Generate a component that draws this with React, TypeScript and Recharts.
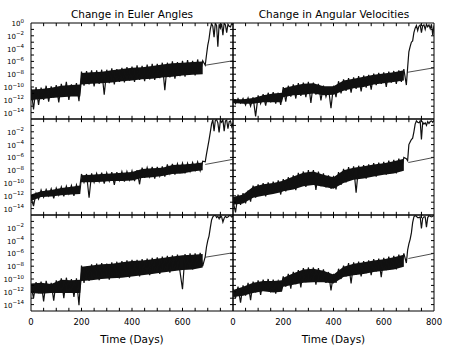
import { ComposedChart, Line, Area, XAxis, YAxis, ReferenceLine, ReferenceArea } from "recharts";

// sample days: every 10 days up to 680, then every 5 days through the divergence
const DAYS = [
  0, 10, 20, 30, 40, 50, 60, 70, 80, 90,
  100, 110, 120, 130, 140, 150, 160, 170, 180, 190,
  200, 210, 220, 230, 240, 250, 260, 270, 280, 290,
  300, 310, 320, 330, 340, 350, 360, 370, 380, 390,
  400, 410, 420, 430, 440, 450, 460, 470, 480, 490,
  500, 510, 520, 530, 540, 550, 560, 570, 580, 590,
  600, 610, 620, 630, 640, 650, 660, 670, 680,
  690, 695, 700, 705, 710, 715, 720, 725, 730, 735, 740, 745,
  750, 755, 760, 765, 770, 775, 780, 785, 790, 795, 800,
];

// log10 of the change
const EULER_1 = [
  -10.2, -13.5, -10.0, -12.8, -10.1, -12.0, -9.8, -12.3, -9.9, -11.6,
  -9.7, -12.4, -9.5, -11.5, -9.2, -12.0, -9.6, -11.3, -9.4, -12.2,
  -7.6, -9.8, -7.5, -9.6, -7.4, -9.9, -7.4, -9.5, -7.3, -11.2,
  -7.3, -9.4, -7.1, -9.6, -7.2, -9.2, -7.0, -9.3, -6.9, -9.0,
  -6.8, -9.2, -6.6, -8.9, -6.7, -9.1, -6.5, -8.8, -6.4, -8.9,
  -6.4, -8.6, -6.2, -10.5, -6.2, -8.5, -6.0, -8.7, -6.1, -8.3,
  -5.9, -8.4, -5.8, -8.0, -5.9, -8.2, -5.7, -7.9, -5.9,
  -6.6, -5.0, -3.5, -2.5, -1.0, -0.1, -0.5, -2.2, 0, -0.4, -3.7, -0.2,
  -0.8, -0.1, -1.9, 0, -0.3, -1.5, -0.2, -0.5, -0.6, -0.1, -0.3,
];
const ANGVEL_1 = [
  -11.8, -12.6, -11.8, -12.5, -11.8, -12.8, -11.7, -13.0, -11.6, -14.6,
  -11.3, -12.6, -11.1, -12.9, -10.9, -12.4, -10.8, -12.6, -10.9, -12.8,
  -10.0, -12.3, -9.8, -11.5, -9.6, -11.8, -9.4, -11.4, -9.3, -11.6,
  -9.2, -12.5, -9.3, -11.2, -9.5, -12.1, -9.8, -11.5, -10.2, -13.3,
  -9.8, -11.6, -9.1, -11.0, -8.8, -10.6, -8.6, -10.9, -8.5, -10.3,
  -8.3, -10.7, -8.2, -10.1, -8.1, -10.4, -7.9, -9.7, -7.8, -9.5,
  -7.7, -10.0, -7.6, -9.3, -7.5, -9.5, -7.4, -9.2, -7.2,
  -9.7, -7.0, -4.5, -3.7, -3.0, -2.8, -1.5, -0.8, -0.4, -1.2, -0.5, -0.3,
  -1.5, -0.4, -0.3, -1.0, -0.2, -0.6, -0.3, -0.9, -0.2, -1.9, -0.4,
];
const EULER_2 = [
  -12.3, -13.6, -11.6, -12.5, -11.1, -12.2, -11.0, -12.0, -10.9, -12.4,
  -10.8, -11.9, -10.6, -12.1, -10.5, -11.7, -10.4, -12.0, -10.3, -11.6,
  -8.6, -9.9, -8.6, -12.3, -8.5, -9.9, -8.5, -9.8, -8.4, -10.1,
  -8.4, -9.7, -8.3, -10.3, -8.3, -9.6, -8.2, -9.8, -8.2, -9.5,
  -8.1, -9.7, -8.0, -10.2, -7.6, -9.2, -7.6, -9.0, -7.5, -9.3,
  -7.5, -8.9, -7.4, -9.0, -7.1, -8.5, -7.0, -8.7, -7.0, -8.3,
  -6.9, -8.5, -6.9, -8.2, -6.8, -8.0, -6.7, -8.1, -6.6,
  -6.7, -5.5, -4.4, -3.3, -2.1, -0.8, -0.1, -1.9, -0.2, -0.1, -0.6, -2.1,
  -0.2, -0.5, -0.1, -1.9, -0.3, -0.2, -1.5, -0.4, -0.3, -1.2, -0.6,
];
const ANGVEL_2 = [
  -12.8, -14.6, -11.8, -13.4, -11.6, -13.2, -11.2, -12.9, -10.4, -12.3,
  -10.2, -11.9, -10.0, -12.1, -9.9, -11.7, -9.8, -11.5, -9.6, -11.8,
  -9.4, -11.3, -9.1, -10.9, -8.8, -11.1, -8.4, -10.4, -8.2, -10.6,
  -8.0, -10.2, -8.0, -11.1, -8.2, -10.5, -8.5, -10.7, -8.8, -10.9,
  -8.9, -11.0, -8.3, -10.3, -7.8, -9.9, -7.5, -9.4, -7.4, -11.5,
  -7.3, -9.0, -7.2, -9.3, -7.1, -8.7, -6.9, -9.0, -6.8, -8.5,
  -6.7, -8.7, -6.5, -8.3, -6.4, -8.5, -6.2, -8.0, -6.0,
  -6.2, -6.5, -4.0, -3.6, -3.2, -3.0, -2.0, -0.8, -0.3, -0.5, -0.6, -0.3,
  -3.2, -0.5, -0.8, -0.6, -1.0, -0.4, -0.7, -0.4, -0.3, -0.5, -0.2,
];
const EULER_3 = [
  -11.0, -13.0, -10.5, -12.2, -10.4, -13.5, -10.3, -12.0, -10.6, -13.4,
  -10.2, -11.8, -9.9, -13.0, -9.8, -12.1, -10.0, -12.8, -9.9, -14.1,
  -7.9, -10.6, -8.1, -10.3, -7.7, -10.0, -7.6, -10.2, -7.5, -9.8,
  -7.6, -10.1, -7.4, -9.7, -7.3, -9.9, -7.2, -9.5, -7.1, -9.8,
  -7.0, -9.3, -7.0, -9.6, -6.9, -9.1, -6.8, -9.4, -6.7, -8.9,
  -6.6, -9.2, -6.5, -8.8, -6.4, -9.0, -6.3, -8.6, -6.2, -8.8,
  -11.6, -6.1, -8.4, -6.0, -8.5, -6.0, -8.2, -5.9, -8.0,
  -6.5, -5.0, -4.0, -3.3, -2.0, -0.8, -0.3, -0.1, 0, -0.4, -0.2, -0.6,
  -0.1, -0.3, -1.1, -0.5, -0.2, -0.4, -0.3, -0.1, -0.1, -0.3, -0.2,
];
const ANGVEL_3 = [
  -11.5, -13.0, -11.2, -13.7, -11.0, -12.6, -10.6, -13.3, -10.4, -12.1,
  -10.2, -12.5, -10.1, -11.8, -10.0, -12.1, -10.1, -12.3, -10.3, -11.4,
  -9.6, -11.2, -9.2, -11.5, -8.9, -10.8, -8.6, -11.3, -8.3, -10.5,
  -8.2, -10.3, -8.2, -10.9, -8.3, -10.4, -8.5, -10.6, -8.9, -11.8,
  -9.2, -10.6, -8.4, -10.0, -7.9, -9.6, -7.5, -10.7, -7.4, -9.3,
  -7.3, -9.6, -7.2, -9.1, -7.1, -9.4, -6.9, -8.8, -6.8, -9.7,
  -6.7, -8.6, -6.5, -8.4, -6.4, -8.5, -6.2, -8.0, -6.0,
  -7.5, -5.5, -4.5, -3.8, -2.8, -1.2, -0.3, -0.1, -0.2, -0.4, -0.4, -0.3,
  -2.1, -0.5, -0.3, -0.3, -1.9, -0.4, -0.1, -0.2, -0.3, -0.2, -0.1,
];

// solid core of the noisy band (log10)
const BAND_DAYS = [0, 40, 80, 120, 160, 195, 200, 240, 280, 320, 360, 400, 440, 480, 520, 560, 600, 640, 680];
const BAND_HI_1 = [-10.4, -10.3, -10.1, -9.8, -9.7, -9.6, -7.8, -7.7, -7.6, -7.4, -7.2, -7.0, -6.9, -6.7, -6.5, -6.3, -6.2, -6.1, -6.0];
const BAND_LO_1 = [-12.0, -11.9, -11.7, -11.6, -11.5, -11.5, -9.6, -9.5, -9.4, -9.3, -9.1, -9.0, -8.8, -8.7, -8.5, -8.4, -8.2, -8.1, -8.0];
const BAND_HI_2 = [-11.9, -11.9, -11.7, -11.3, -11.0, -10.9, -10.2, -9.8, -9.5, -9.4, -9.9, -9.9, -9.0, -8.7, -8.4, -8.1, -7.9, -7.7, -7.4];
const BAND_LO_2 = [-12.5, -12.6, -12.6, -12.4, -12.4, -12.4, -11.6, -11.3, -11.2, -11.0, -11.3, -11.2, -10.6, -10.2, -10.0, -9.6, -9.4, -9.2, -9.0];
const BAND_HI_3 = [-11.8, -11.3, -11.1, -10.8, -10.6, -10.4, -8.8, -8.7, -8.6, -8.5, -8.4, -8.3, -7.8, -7.7, -7.6, -7.2, -7.1, -7.0, -6.8];
const BAND_LO_3 = [-12.8, -12.2, -12.1, -11.9, -11.8, -11.7, -9.9, -9.9, -9.8, -9.7, -9.7, -9.6, -9.2, -9.1, -8.9, -8.6, -8.5, -8.2, -8.0];
const BAND_HI_4 = [-12.2, -11.8, -10.6, -10.2, -10.0, -9.7, -9.6, -9.0, -8.4, -8.2, -8.7, -9.1, -8.0, -7.6, -7.4, -7.1, -6.9, -6.6, -6.2];
const BAND_LO_4 = [-13.4, -13.2, -12.3, -12.0, -11.7, -11.4, -11.3, -11.0, -10.5, -10.3, -10.6, -10.9, -10.0, -9.5, -9.3, -9.0, -8.7, -8.5, -8.1];
const BAND_HI_5 = [-10.7, -10.6, -10.8, -10.1, -10.2, -10.1, -8.1, -7.9, -7.7, -7.6, -7.4, -7.2, -7.1, -6.9, -6.7, -6.5, -6.3, -6.2, -6.1];
const BAND_LO_5 = [-12.2, -12.3, -12.2, -12.2, -12.2, -12.2, -10.3, -10.2, -10.0, -9.9, -9.8, -9.6, -9.4, -9.2, -9.0, -8.8, -8.6, -8.5, -8.2];
const BAND_HI_6 = [-11.7, -11.2, -10.6, -10.3, -10.3, -10.2, -9.8, -9.1, -8.5, -8.4, -8.7, -9.3, -8.1, -7.6, -7.4, -7.1, -6.9, -6.6, -6.2];
const BAND_LO_6 = [-12.8, -12.6, -12.2, -11.9, -12.1, -12.0, -11.2, -10.9, -10.6, -10.5, -10.5, -10.7, -9.7, -9.4, -9.2, -8.9, -8.7, -8.5, -8.1];

// thin reference lines (start/end)
const TREND_DAYS_1 = [690, 800];
const TREND_1 = [-6.6, -5.9];
const TREND_DAYS_2 = [695, 800];
const TREND_2 = [-7.7, -7.0];
const TREND_DAYS_3 = [690, 800];
const TREND_3 = [-7.1, -6.3];
const TREND_DAYS_4 = [698, 800];
const TREND_4 = [-6.8, -6.0];
const TREND_DAYS_5 = [690, 800];
const TREND_5 = [-6.6, -5.9];
const TREND_DAYS_6 = [698, 800];
const TREND_6 = [-6.8, -6.0];

const Y_LABELS_TOP = [-14, -12, -10, -8, -6, -4, -2, 0];
const Y_LABELS = [-14, -12, -10, -8, -6, -4, -2];
const X_LABELS_LEFT = [0, 200, 400, 600];
const X_LABELS_RIGHT = [0, 200, 400, 600, 800];
const Y_MINOR = [-14, -13, -12, -11, -10, -9, -8, -7, -6, -5, -4, -3, -2, -1];
const X_MINOR = [50, 100, 150, 200, 250, 300, 350, 400, 450, 500, 550, 600, 650, 700, 750];

const FONT = "DejaVu Sans, sans-serif";
const PLOT_H = 96;
const PAD = 12;
const TICK_DAYS = 12; // ~3px
const TICK_DEC = 0.5; // ~3px

function PowerTick({ x, y, payload }: any) {
  const exp = payload.value === 0 ? "0" : "\u2212" + Math.abs(payload.value);
  return (
    <text x={x} y={y} textAnchor="end" dy={3} fontSize={7} fontFamily={FONT} fill="#000">
      10
      <tspan dy={-3.5} fontSize={5.5}>
        {exp}
      </tspan>
    </text>
  );
}

interface PanelProps {
  values: number[];
  bandHi: number[];
  bandLo: number[];
  trendDays: number[];
  trend: number[];
  left: boolean;
  row: number;
}

function Panel({ values, bandHi, bandLo, trendDays, trend, left, row }: PanelProps) {
  const bottom = row === 2;
  const data = DAYS.map((day, i) => ({ day, v: values[i] }));
  const band = BAND_DAYS.map((day, i) => ({ day, range: [bandLo[i], bandHi[i]] }));
  const trendData = trendDays.map((day, i) => ({ day, v: trend[i] }));
  const plotW = left ? 202 : 201;
  const yAxisW = left ? 31 : 0;
  const mLeft = left ? 0 : PAD;
  const width = mLeft + yAxisW + plotW + PAD;
  const height = PAD + PLOT_H + (bottom ? 42 : 2);

  return (
    <div
      style={{
        position: "absolute",
        left: left ? 0 : 233 - PAD,
        top: 23 + row * PLOT_H - PAD,
        width,
        height,
      }}
    >
      <ComposedChart
        width={width}
        height={height}
        data={data}
        margin={{ top: PAD, right: PAD, left: mLeft, bottom: bottom ? 0 : 2 }}
      >
        <XAxis
          type="number"
          dataKey="day"
          domain={[0, 800]}
          allowDataOverflow
          hide={!bottom}
          ticks={left ? X_LABELS_LEFT : X_LABELS_RIGHT}
          interval={0}
          tickLine={false}
          axisLine={false}
          tickSize={6}
          tickMargin={2}
          height={42}
          tick={{ fontSize: 8.5, fontFamily: FONT, fill: "#000" }}
          label={{
            value: "Time (Days)",
            position: "insideBottom",
            offset: 10,
            style: { fontSize: 10.5, fontFamily: FONT, fill: "#000" },
          }}
        />
        <YAxis
          type="number"
          domain={[-15, 0]}
          allowDataOverflow
          hide={!left}
          width={31}
          ticks={row === 0 ? Y_LABELS_TOP : Y_LABELS}
          interval={0}
          tickLine={false}
          axisLine={false}
          tickSize={5}
          tickMargin={2}
          tick={<PowerTick />}
        />
        <ReferenceArea x1={0} x2={800} y1={-15} y2={0} fill="none" stroke="#000" strokeWidth={1} />
        {Y_MINOR.map((d) => (
          <ReferenceLine
            key={"yl" + d}
            segment={[{ x: 0, y: d }, { x: TICK_DAYS, y: d }]}
            stroke="#000"
          />
        ))}
        {Y_MINOR.map((d) => (
          <ReferenceLine
            key={"yr" + d}
            segment={[{ x: 800 - TICK_DAYS, y: d }, { x: 800, y: d }]}
            stroke="#000"
          />
        ))}
        {X_MINOR.map((d) => (
          <ReferenceLine
            key={"xb" + d}
            segment={[{ x: d, y: -15 }, { x: d, y: -15 + TICK_DEC }]}
            stroke="#000"
          />
        ))}
        {X_MINOR.map((d) => (
          <ReferenceLine
            key={"xt" + d}
            segment={[{ x: d, y: 0 }, { x: d, y: -TICK_DEC }]}
            stroke="#000"
          />
        ))}
        <Line
          data={trendData}
          dataKey="v"
          stroke="#222"
          strokeWidth={0.8}
          dot={false}
          isAnimationActive={false}
        />
        <Area
          data={band}
          dataKey="range"
          type="linear"
          stroke="none"
          fill="#111"
          fillOpacity={1}
          isAnimationActive={false}
        />
        <Line
          dataKey="v"
          stroke="#111"
          strokeWidth={1.2}
          dot={false}
          isAnimationActive={false}
        />
      </ComposedChart>
    </div>
  );
}

const titleStyle: React.CSSProperties = {
  position: "absolute",
  top: 8,
  width: 202,
  textAlign: "center",
  fontFamily: FONT,
  fontSize: 10.5,
  lineHeight: "12px",
  color: "#000",
  whiteSpace: "nowrap",
};

export default function App() {
  return (
    <div style={{ position: "absolute", left: 0, top: 0, width: 449, height: 356, background: "#fff" }}>
      <div style={{ ...titleStyle, left: 31 }}>Change in Euler Angles</div>
      <div style={{ ...titleStyle, left: 233 }}>Change in Angular Velocities</div>
      <Panel values={EULER_1} bandHi={BAND_HI_1} bandLo={BAND_LO_1} trendDays={TREND_DAYS_1} trend={TREND_1} left row={0} />
      <Panel values={ANGVEL_1} bandHi={BAND_HI_2} bandLo={BAND_LO_2} trendDays={TREND_DAYS_2} trend={TREND_2} left={false} row={0} />
      <Panel values={EULER_2} bandHi={BAND_HI_3} bandLo={BAND_LO_3} trendDays={TREND_DAYS_3} trend={TREND_3} left row={1} />
      <Panel values={ANGVEL_2} bandHi={BAND_HI_4} bandLo={BAND_LO_4} trendDays={TREND_DAYS_4} trend={TREND_4} left={false} row={1} />
      <Panel values={EULER_3} bandHi={BAND_HI_5} bandLo={BAND_LO_5} trendDays={TREND_DAYS_5} trend={TREND_5} left row={2} />
      <Panel values={ANGVEL_3} bandHi={BAND_HI_6} bandLo={BAND_LO_6} trendDays={TREND_DAYS_6} trend={TREND_6} left={false} row={2} />
    </div>
  );
}
